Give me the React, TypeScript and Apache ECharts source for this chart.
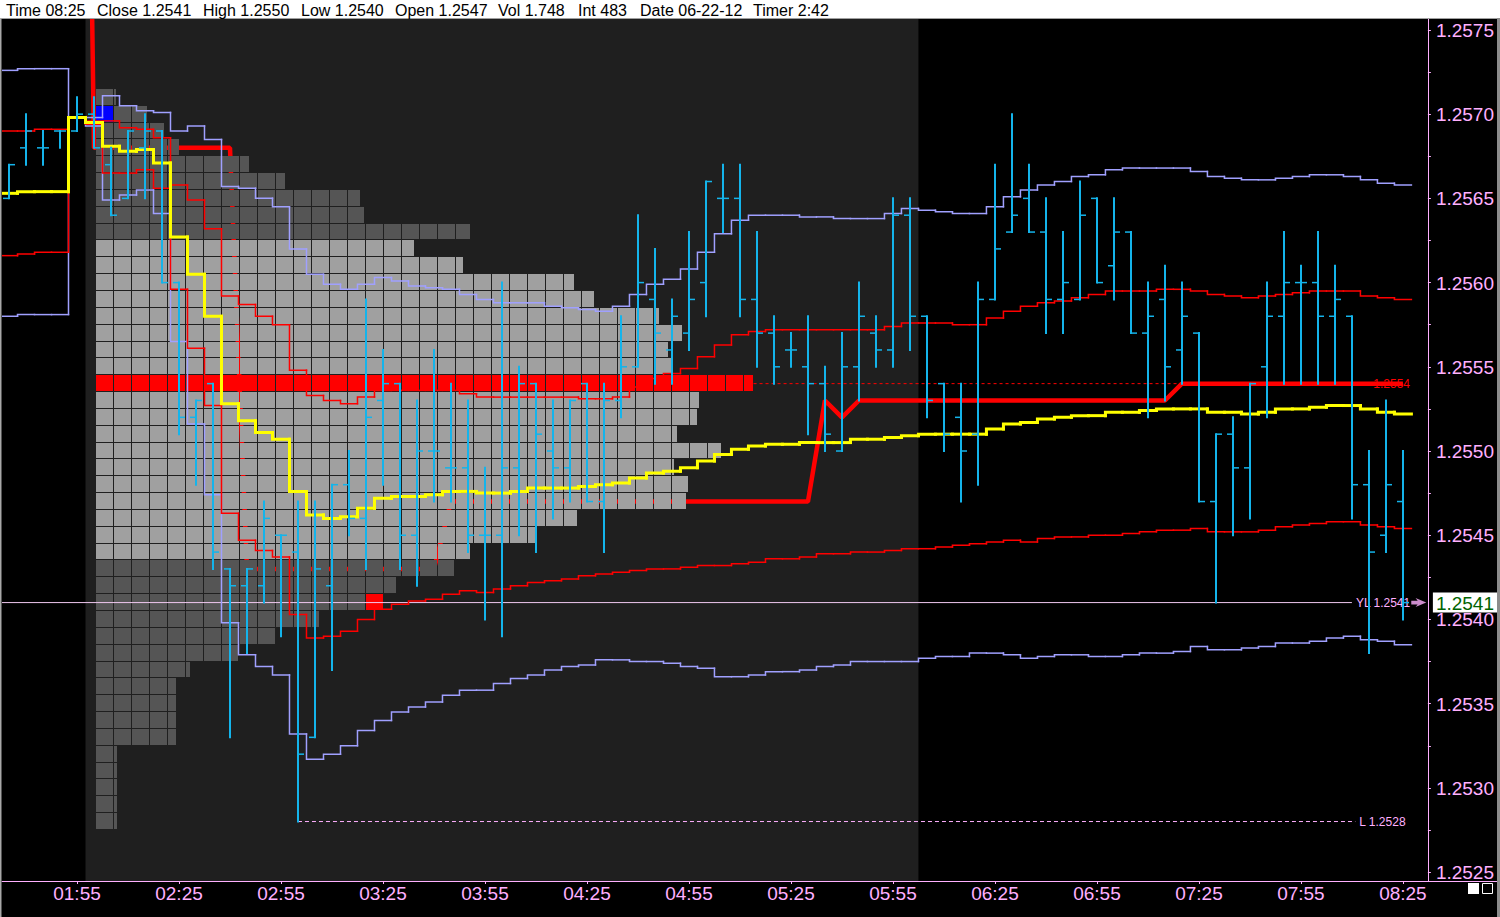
import React, { useEffect, useRef } from 'react';
import * as echarts from 'echarts';

const FONT = "'Liberation Sans', Arial, Helvetica, sans-serif";
const PINK = '#ffb0ff';
const CYAN = '#14b4eb';
const LAVENDER = '#a0a0ff';
const RED = '#ff0000';
const YELLOW = '#ffff00';

// ---------- header ----------
const headerFields = ['Time 08:25', 'Close 1.2541', 'High 1.2550', 'Low 1.2540', 'Open 1.2547', 'Vol 1.748', 'Int 483', 'Date 06-22-12', 'Timer 2:42'];
const headerX = [6, 97, 203, 301, 395, 498, 578, 640, 753];

// ---------- axes ----------
const xTickLabels = ['01:55', '02:25', '02:55', '03:25', '03:55', '04:25', '04:55', '05:25', '05:55', '06:25', '06:55', '07:25', '07:55', '08:25'];
const yTickLabels = ['1.2525', '1.2530', '1.2535', '1.2540', '1.2545', '1.2550', '1.2555', '1.2560', '1.2565', '1.2570', '1.2575'];
const X_MIN = 92.94; // minutes since midnight at the left edge of the plot
const X_MAX = 512.35;
const Y_MIN = 1.252447;
const Y_MAX = 1.257565;
const BAR_MINUTES = 5;
const PIP = 0.0001;

// ---------- 5-minute OHLC bars ----------
const barTimes = ['01:35', '01:40', '01:45', '01:50', '01:55',
  '02:00', '02:05', '02:10', '02:15', '02:20', '02:25', '02:30', '02:35', '02:40', '02:45', '02:50', '02:55',
  '03:00', '03:05', '03:10', '03:15', '03:20', '03:25', '03:30', '03:35', '03:40', '03:45', '03:50', '03:55',
  '04:00', '04:05', '04:10', '04:15', '04:20', '04:25', '04:30', '04:35', '04:40', '04:45', '04:50', '04:55',
  '05:00', '05:05', '05:10', '05:15', '05:20', '05:25', '05:30', '05:35', '05:40', '05:45', '05:50', '05:55',
  '06:00', '06:05', '06:10', '06:15', '06:20', '06:25', '06:30', '06:35', '06:40', '06:45', '06:50', '06:55',
  '07:00', '07:05', '07:10', '07:15', '07:20', '07:25', '07:30', '07:35', '07:40', '07:45', '07:50', '07:55',
  '08:00', '08:05', '08:10', '08:15', '08:20', '08:25'];

const barOpen = [1.2565, 1.2568, 1.2568, 1.2569, 1.2569, 1.2570, 1.2567, 1.2565, 1.2568, 1.2569,
  1.2560, 1.2552, 1.2554, 1.2543, 1.2542, 1.2542, 1.2545, 1.2544, 1.2533, 1.2542,
  1.2548, 1.2546, 1.2553, 1.2554, 1.2545, 1.2550, 1.2549, 1.2549, 1.2545, 1.2545,
  1.2549, 1.2554, 1.2550, 1.2549, 1.2554, 1.2547, 1.2553, 1.2555, 1.2559, 1.2556,
  1.2557, 1.2560, 1.2565, 1.2565, 1.2559, 1.2557, 1.2556, 1.2555, 1.2554, 1.2550,
  1.2555, 1.2557, 1.2556, 1.2564, 1.2558, 1.2554, 1.2552, 1.2551, 1.2559, 1.2563,
  1.2565, 1.2563, 1.2559, 1.2559, 1.2565, 1.2561, 1.2563, 1.2557, 1.2559, 1.2556,
  1.2557, 1.2547, 1.2551, 1.2549, 1.2555, 1.2558, 1.2560, 1.2560, 1.2558, 1.2558,
  1.2548, 1.2545, 1.2547];
const barHigh = [1.2567, 1.2570, 1.2569, 1.2569, 1.2571, 1.2571, 1.2568, 1.2569, 1.2570, 1.2569,
  1.2560, 1.2553, 1.2554, 1.2543, 1.2543, 1.2547, 1.2545, 1.2547, 1.2547, 1.2548,
  1.2550, 1.2559, 1.2556, 1.2554, 1.2553, 1.2556, 1.2554, 1.2553, 1.2549, 1.2560,
  1.2555, 1.2554, 1.2553, 1.2553, 1.2554, 1.2554, 1.2558, 1.2564, 1.2562, 1.2559,
  1.2563, 1.2566, 1.2567, 1.2567, 1.2563, 1.2558, 1.2557, 1.2558, 1.2555, 1.2557,
  1.2560, 1.2558, 1.2565, 1.2565, 1.2558, 1.2554, 1.2554, 1.2560, 1.2567, 1.2570,
  1.2567, 1.2565, 1.2563, 1.2566, 1.2565, 1.2565, 1.2563, 1.2560, 1.2561, 1.2560,
  1.2557, 1.2551, 1.2552, 1.2554, 1.2560, 1.2563, 1.2561, 1.2563, 1.2561, 1.2558,
  1.2550, 1.2553, 1.2550];
const barLow = [1.2565, 1.2567, 1.2567, 1.2568, 1.2569, 1.2568, 1.2564, 1.2565, 1.2565, 1.2560,
  1.2551, 1.2548, 1.2543, 1.2533, 1.2538, 1.2541, 1.2539, 1.2528, 1.2533, 1.2537,
  1.2545, 1.2543, 1.2548, 1.2543, 1.2542, 1.2547, 1.2547, 1.2544, 1.2540, 1.2539,
  1.2545, 1.2544, 1.2546, 1.2547, 1.2547, 1.2544, 1.2552, 1.2555, 1.2554, 1.2554,
  1.2556, 1.2558, 1.2563, 1.2558, 1.2555, 1.2554, 1.2555, 1.2551, 1.2550, 1.2550,
  1.2553, 1.2555, 1.2555, 1.2556, 1.2552, 1.2550, 1.2547, 1.2548, 1.2559, 1.2563,
  1.2563, 1.2557, 1.2557, 1.2559, 1.2560, 1.2559, 1.2557, 1.2552, 1.2553, 1.2554,
  1.2547, 1.2541, 1.2545, 1.2546, 1.2552, 1.2554, 1.2554, 1.2554, 1.2554, 1.2546,
  1.2538, 1.2544, 1.2540];
const barClose = [1.2567, 1.2569, 1.2568, 1.2569, 1.2570, 1.2568, 1.2564, 1.2569, 1.2569, 1.2560,
  1.2552, 1.2553, 1.2544, 1.2542, 1.2543, 1.2546, 1.2545, 1.2532, 1.2543, 1.2548,
  1.2546, 1.2552, 1.2554, 1.2545, 1.2550, 1.2550, 1.2549, 1.2545, 1.2545, 1.2549,
  1.2554, 1.2551, 1.2549, 1.2553, 1.2547, 1.2553, 1.2555, 1.2560, 1.2557, 1.2558,
  1.2559, 1.2566, 1.2565, 1.2559, 1.2557, 1.2555, 1.2556, 1.2554, 1.2551, 1.2555,
  1.2558, 1.2556, 1.2564, 1.2558, 1.2553, 1.2551, 1.2550, 1.2559, 1.2562, 1.2564,
  1.2563, 1.2559, 1.2560, 1.2564, 1.2560, 1.2563, 1.2557, 1.2558, 1.2555, 1.2558,
  1.2547, 1.2551, 1.2549, 1.2554, 1.2558, 1.2560, 1.2560, 1.2558, 1.2559, 1.2548,
  1.2544, 1.2548, 1.2541];

// ---------- indicator lines (one value per bar) ----------
const vwap = [1.25653, 1.25654, 1.25654, 1.25654, 1.25698, 1.25695, 1.25681, 1.25678, 1.25679, 1.25671,
  1.25627, 1.25605, 1.25580, 1.25528, 1.25518, 1.25511, 1.25507, 1.25476, 1.25462, 1.25460,
  1.25461, 1.25466, 1.25472, 1.25473, 1.25473, 1.25474, 1.25476, 1.25476, 1.25475, 1.25475,
  1.25476, 1.25478, 1.25478, 1.25478, 1.25479, 1.25480, 1.25481, 1.25484, 1.25487, 1.25488,
  1.25490, 1.25494, 1.25498, 1.25501, 1.25503, 1.25504, 1.25504, 1.25505, 1.25505, 1.25505,
  1.25507, 1.25507, 1.25508, 1.25509, 1.25510, 1.25510, 1.25510, 1.25510, 1.25513, 1.25516,
  1.25517, 1.25519, 1.25520, 1.25521, 1.25521, 1.25523, 1.25523, 1.25524, 1.25525, 1.25525,
  1.25525, 1.25523, 1.25523, 1.25522, 1.25523, 1.25525, 1.25525, 1.25526, 1.25527, 1.25527,
  1.25525, 1.25523, 1.25522];
const upperOuter = [1.25726, 1.25727, 1.25727, 1.25727, 1.25698, 1.25698, 1.25711, 1.25705, 1.25702, 1.25701,
  1.25690, 1.25693, 1.25685, 1.25657, 1.25656, 1.25650, 1.25645, 1.25620, 1.25605, 1.25599,
  1.25596, 1.25599, 1.25603, 1.25601, 1.25598, 1.25597, 1.25596, 1.25593, 1.25590, 1.25588,
  1.25588, 1.25588, 1.25586, 1.25585, 1.25584, 1.25583, 1.25586, 1.25593, 1.25599, 1.25602,
  1.25608, 1.25618, 1.25629, 1.25637, 1.25640, 1.25640, 1.25640, 1.25639, 1.25639, 1.25638,
  1.25638, 1.25638, 1.25641, 1.25644, 1.25643, 1.25642, 1.25641, 1.25641, 1.25645, 1.25651,
  1.25655, 1.25658, 1.25660, 1.25663, 1.25664, 1.25667, 1.25668, 1.25668, 1.25668, 1.25668,
  1.25666, 1.25663, 1.25662, 1.25661, 1.25661, 1.25662, 1.25663, 1.25664, 1.25664, 1.25663,
  1.25661, 1.25659, 1.25658];
const upperInner = [1.25690, 1.25690, 1.25691, 1.25691, 1.25698, 1.25696, 1.25696, 1.25692, 1.25691, 1.25686,
  1.25658, 1.25649, 1.25632, 1.25592, 1.25587, 1.25580, 1.25575, 1.25548, 1.25533, 1.25530,
  1.25528, 1.25532, 1.25536, 1.25536, 1.25536, 1.25536, 1.25536, 1.25534, 1.25532, 1.25532,
  1.25532, 1.25532, 1.25532, 1.25532, 1.25531, 1.25531, 1.25532, 1.25538, 1.25543, 1.25546,
  1.25549, 1.25556, 1.25563, 1.25569, 1.25571, 1.25572, 1.25572, 1.25572, 1.25572, 1.25572,
  1.25572, 1.25572, 1.25574, 1.25576, 1.25576, 1.25576, 1.25575, 1.25575, 1.25579, 1.25583,
  1.25586, 1.25588, 1.25589, 1.25591, 1.25593, 1.25595, 1.25595, 1.25595, 1.25596, 1.25596,
  1.25595, 1.25593, 1.25592, 1.25591, 1.25592, 1.25593, 1.25594, 1.25595, 1.25595, 1.25595,
  1.25592, 1.25591, 1.25590];
const lowerInner = [1.25616, 1.25617, 1.25618, 1.25618, 1.25698, 1.25694, 1.25665, 1.25665, 1.25667, 1.25656,
  1.25596, 1.25561, 1.25527, 1.25463, 1.25447, 1.25441, 1.25437, 1.25403, 1.25389, 1.25390,
  1.25393, 1.25400, 1.25406, 1.25409, 1.25411, 1.25412, 1.25415, 1.25417, 1.25416, 1.25418,
  1.25420, 1.25422, 1.25423, 1.25424, 1.25426, 1.25427, 1.25428, 1.25429, 1.25430, 1.25430,
  1.25431, 1.25432, 1.25432, 1.25433, 1.25434, 1.25436, 1.25436, 1.25437, 1.25439, 1.25439,
  1.25440, 1.25440, 1.25441, 1.25442, 1.25442, 1.25443, 1.25444, 1.25445, 1.25446, 1.25447,
  1.25446, 1.25448, 1.25449, 1.25449, 1.25450, 1.25450, 1.25451, 1.25452, 1.25453, 1.25453,
  1.25454, 1.25452, 1.25452, 1.25452, 1.25453, 1.25455, 1.25456, 1.25457, 1.25458, 1.25458,
  1.25456, 1.25455, 1.25454];
const lowerOuter = [1.25580, 1.25581, 1.25581, 1.25581, 1.25698, 1.25693, 1.25649, 1.25652, 1.25655, 1.25641,
  1.25565, 1.25516, 1.25474, 1.25398, 1.25379, 1.25372, 1.25367, 1.25332, 1.25317, 1.25320,
  1.25325, 1.25334, 1.25340, 1.25345, 1.25348, 1.25351, 1.25355, 1.25358, 1.25358, 1.25362,
  1.25365, 1.25367, 1.25370, 1.25372, 1.25373, 1.25376, 1.25376, 1.25375, 1.25375, 1.25374,
  1.25372, 1.25371, 1.25366, 1.25366, 1.25367, 1.25369, 1.25369, 1.25370, 1.25372, 1.25373,
  1.25375, 1.25375, 1.25375, 1.25375, 1.25377, 1.25378, 1.25378, 1.25380, 1.25380, 1.25379,
  1.25377, 1.25378, 1.25379, 1.25379, 1.25378, 1.25378, 1.25379, 1.25380, 1.25380, 1.25381,
  1.25384, 1.25382, 1.25382, 1.25383, 1.25384, 1.25386, 1.25386, 1.25387, 1.25389, 1.25390,
  1.25388, 1.25387, 1.25385];
const developingPoc = [1.2640, 1.2640, 1.2640, 1.2640, 1.2640, 1.2568, 1.2568, 1.2568, 1.2568, 1.2568,
  1.2568, 1.2568, 1.2568, 1.2568, 1.2543, 1.2543, 1.2543, 1.2543, 1.2543, 1.2543,
  1.2543, 1.2543, 1.2543, 1.2543, 1.2543, 1.2543, 1.2547, 1.2547, 1.2547, 1.2547,
  1.2547, 1.2547, 1.2547, 1.2547, 1.2547, 1.2547, 1.2547, 1.2547, 1.2547, 1.2547,
  1.2547, 1.2547, 1.2547, 1.2547, 1.2547, 1.2547, 1.2547, 1.2547, 1.2553, 1.2552,
  1.2553, 1.2553, 1.2553, 1.2553, 1.2553, 1.2553, 1.2553, 1.2553, 1.2553, 1.2553,
  1.2553, 1.2553, 1.2553, 1.2553, 1.2553, 1.2553, 1.2553, 1.2553, 1.2553, 1.2554,
  1.2554, 1.2554, 1.2554, 1.2554, 1.2554, 1.2554, 1.2554, 1.2554, 1.2554, 1.2554,
  1.2554, 1.2554, 1.2554];

// ---------- market profile (TPO counts per price) ----------
const profilePrices = [1.2571, 1.2570, 1.2569, 1.2568, 1.2567, 1.2566, 1.2565, 1.2564, 1.2563, 1.2562,
  1.2561, 1.2560, 1.2559, 1.2558, 1.2557, 1.2556, 1.2555, 1.2554, 1.2553, 1.2552,
  1.2551, 1.2550, 1.2549, 1.2548, 1.2547, 1.2546, 1.2545, 1.2544, 1.2543, 1.2542,
  1.2541, 1.2540, 1.2539, 1.2538, 1.2537, 1.2536, 1.2535, 1.2534, 1.2533, 1.2532,
  1.2531, 1.2530, 1.2529, 1.2528];
const profileCounts = [1.1, 2.85, 3.78, 4.6, 8.5, 10.5, 14.65, 14.9, 20.8, 17.65,
  20.4, 26.55, 27.67, 31.3, 32.55, 31.8, 32, 36.5, 33.5, 33.4,
  32.3, 34.7, 32.1, 32.9, 32.8, 26.7, 24.4, 20.8, 19.9, 16.67,
  15.8, 12.4, 9.95, 7.9, 5.2, 4.44, 4.44, 4.44, 4.44, 1.17,
  1.17, 1.17, 1.17, 1.17];
const valueAreaHigh = 1.2562;
const valueAreaLow = 1.2544;
const pocPrice = 1.2554;
const markedCellPrices = [1.2570, 1.2541];
const markedCellColumns = [0, 15];
const markedCellColors = ['#0000ff', '#ff0000'];
const PROFILE_AXIS_MIN = -5.2222;
const PROFILE_AXIS_MAX = 74;

// ---------- reference levels ----------
const sessionShade = ['01:57:30', '06:02:30'];
const yesterdayLow = 1.2541;
const sessionLow = 1.2528;
const sessionLowTime = '03:00';
const refLineEnd = '08:10';
const lowLineEnd = '08:11';
const pocLineStart = '05:14';
const pocLineEnd = '08:16';
const arrowTime = '08:29:40';

const toMin = (s: string) => {
  const p = s.split(':').map(Number);
  return p[0] * 60 + p[1] + (p[2] ? p[2] / 60 : 0);
};
const pad = (n: number) => (n < 10 ? '0' : '') + n;
const barMin = barTimes.map(toMin);
const lastClose = barClose[barClose.length - 1];

function stepSeries(values: number[], color: string, width: number, z: number) {
  return {
    type: 'custom',
    xAxisIndex: 0,
    yAxisIndex: 0,
    z,
    clip: true,
    silent: true,
    data: values.map((v, i) => [barMin[i], v]),
    renderItem: (params: any, api: any) => {
      const i = params.dataIndex;
      const p = api.coord([api.value(0), api.value(1)]);
      const half = api.size([BAR_MINUTES / 2, 0])[0];
      const pts: number[][] = [];
      if (i > 0) {
        const prev = api.coord([barMin[i - 1], values[i - 1]]);
        pts.push([p[0] - half, prev[1]]);
      }
      pts.push([p[0] - half, p[1]], [p[0] + half, p[1]]);
      return {
        type: 'polyline',
        shape: { points: pts },
        style: { stroke: color, lineWidth: width, fill: 'none', lineCap: 'square' },
      };
    },
  };
}

export default function App() {
  const ref = useRef<HTMLDivElement>(null);

  useEffect(() => {
    if (!ref.current) return;
    const chart = echarts.init(ref.current, undefined, { renderer: 'svg' });

    const xTickValues = xTickLabels.map(toMin);
    const yLabelValues = yTickLabels.map(Number);
    const yTickValues: number[] = [];
    yLabelValues.forEach((v, i) => {
      yTickValues.push(v);
      if (i < yLabelValues.length - 1) yTickValues.push((v + yLabelValues[i + 1]) / 2);
    });

    const profileData = profilePrices.map((p, i) => [
      profileCounts[i],
      p,
      Math.abs(p - pocPrice) < 1e-9 ? 2 : p <= valueAreaHigh + 1e-9 && p >= valueAreaLow - 1e-9 ? 1 : 0,
    ]);

    const option: any = {
      backgroundColor: '#000000',
      animation: false,
      tooltip: { show: false },
      grid: { left: 2, right: 72, top: 19, bottom: 36, containLabel: false },
      xAxis: [
        {
          type: 'value',
          min: X_MIN,
          max: X_MAX,
          position: 'bottom',
          axisLine: { show: true, onZero: false, lineStyle: { color: PINK, width: 1 } },
          axisTick: { show: true, customValues: xTickValues, length: 3, lineStyle: { color: PINK } },
          axisLabel: {
            show: true,
            customValues: xTickValues,
            color: PINK,
            fontSize: 19,
            fontFamily: FONT,
            margin: 3,
            formatter: (v: number) => pad(Math.floor(v / 60)) + ':' + pad(Math.round(v % 60)),
          },
          splitLine: { show: false },
        },
        {
          type: 'value',
          min: PROFILE_AXIS_MIN,
          max: PROFILE_AXIS_MAX,
          show: false,
          axisLine: { show: false, onZero: false },
        },
      ],
      yAxis: {
        type: 'value',
        position: 'right',
        min: Y_MIN,
        max: Y_MAX,
        axisLine: { show: true, onZero: false, lineStyle: { color: PINK, width: 1 } },
        axisTick: { show: true, customValues: yTickValues, length: 3, lineStyle: { color: PINK } },
        axisLabel: {
          show: true,
          customValues: [...yLabelValues, lastClose],
          margin: 5,
          formatter: (v: number) => {
            const s = v.toFixed(4);
            return Math.abs(v - lastClose) < 1e-7 ? '{c|' + s + '}' : '{n|' + s + '}';
          },
          rich: {
            n: { color: PINK, fontSize: 19, fontFamily: FONT, padding: [1, 3, 0, 3] },
            c: { color: '#006400', backgroundColor: '#ffffff', fontSize: 19, fontFamily: FONT, padding: [1, 3, 0, 3] },
          },
        },
        splitLine: { show: false },
      },
      series: [
        // session shading
        {
          type: 'custom',
          z: 0,
          silent: true,
          xAxisIndex: 0,
          yAxisIndex: 0,
          data: [[toMin(sessionShade[0]), toMin(sessionShade[1])]],
          renderItem: (params: any, api: any) => {
            const cs = params.coordSys;
            const x0 = api.coord([api.value(0), Y_MAX])[0];
            const x1 = api.coord([api.value(1), Y_MAX])[0];
            return { type: 'rect', shape: { x: x0, y: cs.y, width: x1 - x0, height: cs.height }, style: { fill: '#1f1f1f' } };
          },
        },
        // developing POC (thick, behind the profile)
        {
          type: 'line',
          z: 1,
          silent: true,
          xAxisIndex: 0,
          yAxisIndex: 0,
          data: developingPoc.map((v, i) => [barMin[i], v]),
          symbol: 'none',
          lineStyle: { color: RED, width: 4.5 },
          clip: true,
        },
        // profile cells
        {
          type: 'custom',
          z: 2,
          silent: true,
          xAxisIndex: 1,
          yAxisIndex: 0,
          data: profileData,
          renderItem: (params: any, api: any) => {
            const count = api.value(0);
            const price = api.value(1);
            const kind = api.value(2);
            const top = Math.round(api.coord([0, price + PIP / 2])[1]);
            const bot = Math.round(api.coord([0, price - PIP / 2])[1]);
            const fill = kind === 2 ? '#ff0000' : kind === 1 ? '#a0a0a0' : '#555555';
            const children: any[] = [];
            const n = Math.ceil(count - 1e-9);
            for (let i = 0; i < n; i++) {
              const x0 = Math.round(api.coord([i, price])[0]);
              const full = i + 1 <= count;
              const x1 = Math.round(api.coord([full ? i + 1 : count, price])[0]);
              const w = full ? x1 - x0 - 1 : x1 - x0;
              if (w > 0) children.push({ type: 'rect', shape: { x: x0, y: top, width: w, height: bot - top - 1 }, style: { fill } });
            }
            return { type: 'group', children };
          },
        },
        // marked cells (open / close)
        {
          type: 'custom',
          z: 2,
          silent: true,
          xAxisIndex: 1,
          yAxisIndex: 0,
          data: markedCellPrices.map((p, i) => [markedCellColumns[i], p]),
          renderItem: (params: any, api: any) => {
            const col = api.value(0);
            const price = api.value(1);
            const top = Math.round(api.coord([0, price + PIP / 2])[1]);
            const bot = Math.round(api.coord([0, price - PIP / 2])[1]);
            const x0 = Math.round(api.coord([col, price])[0]);
            const x1 = Math.round(api.coord([col + 1, price])[0]);
            return { type: 'rect', shape: { x: x0, y: top, width: x1 - x0 - 1, height: bot - top - 1 }, style: { fill: markedCellColors[params.dataIndex] } };
          },
        },
        // reference lines
        {
          type: 'line',
          z: 3,
          silent: true,
          data: [[toMin(pocLineStart), pocPrice], [toMin(pocLineEnd), pocPrice]],
          symbol: 'none',
          lineStyle: { color: RED, width: 1, type: [3, 3] },
          endLabel: { show: true, formatter: pocPrice.toFixed(4), color: RED, fontSize: 12, fontFamily: FONT, distance: 1 },
        },
        {
          type: 'line',
          z: 3,
          silent: true,
          data: [[toMin(sessionLowTime), sessionLow], [toMin(lowLineEnd), sessionLow]],
          symbol: 'none',
          lineStyle: { color: PINK, width: 1, type: [4, 3] },
          endLabel: { show: true, formatter: 'L ' + sessionLow.toFixed(4), color: PINK, fontSize: 12, fontFamily: FONT, distance: 4 },
        },
        {
          type: 'line',
          z: 3,
          silent: true,
          data: [[X_MIN, yesterdayLow], [toMin(refLineEnd), yesterdayLow]],
          symbol: 'none',
          lineStyle: { color: '#f0c8f0', width: 1 },
          endLabel: { show: true, formatter: 'YL ' + yesterdayLow.toFixed(4), color: PINK, fontSize: 12, fontFamily: FONT, distance: 4 },
        },
        // bands and VWAP
        stepSeries(upperOuter, LAVENDER, 1.5, 4),
        stepSeries(lowerOuter, LAVENDER, 1.5, 4),
        stepSeries(upperInner, RED, 1.5, 4),
        stepSeries(lowerInner, RED, 1.5, 4),
        stepSeries(vwap, YELLOW, 3, 5),
        // OHLC bars
        {
          type: 'custom',
          z: 6,
          silent: true,
          xAxisIndex: 0,
          yAxisIndex: 0,
          clip: true,
          data: barMin.map((t, i) => [t, barOpen[i], barHigh[i], barLow[i], barClose[i]]),
          renderItem: (params: any, api: any) => {
            const t = api.value(0);
            const x = Math.round(api.coord([t, api.value(2)])[0]);
            const yH = api.coord([t, api.value(2)])[1];
            const yL = api.coord([t, api.value(3)])[1];
            const yO = api.coord([t, api.value(1)])[1];
            const yC = api.coord([t, api.value(4)])[1];
            const st = { stroke: CYAN, lineWidth: 2 };
            return {
              type: 'group',
              children: [
                { type: 'line', shape: { x1: x, y1: yH - 1, x2: x, y2: yL + 1 }, style: st },
                { type: 'line', shape: { x1: x - 6, y1: yO, x2: x, y2: yO }, style: { stroke: CYAN, lineWidth: 1.5 } },
                { type: 'line', shape: { x1: x, y1: yC, x2: x + 6, y2: yC }, style: { stroke: CYAN, lineWidth: 1.5 } },
              ],
            };
          },
        },
        // arrow marker for the yesterday-low line
        {
          type: 'scatter',
          z: 7,
          silent: true,
          data: [[toMin(arrowTime), yesterdayLow]],
          symbol: 'path://M0,3 L6,3 L4,0 L14,5 L4,10 L6,7 L0,7 Z',
          symbolSize: [15, 9],
          itemStyle: { color: PINK },
        },
      ],
      graphic: [
        { type: 'rect', z: 100, shape: { x: 0, y: 0, width: 1500, height: 18 }, style: { fill: '#ffffff' } },
        { type: 'rect', z: 100, shape: { x: 0, y: 18, width: 1500, height: 1 }, style: { fill: '#a0a0a0' } },
        ...headerFields.map((t, i) => ({
          type: 'text',
          z: 101,
          x: headerX[i],
          y: 10,
          style: { text: t, fill: '#000000', fontSize: 16, fontFamily: FONT, verticalAlign: 'middle' },
        })),
        { type: 'rect', z: 100, shape: { x: 0, y: 18, width: 1.5, height: 899 }, style: { fill: '#a8a8a8' } },
        { type: 'rect', z: 100, shape: { x: 1497, y: 18, width: 3, height: 899 }, style: { fill: '#8c8c8c' } },
        { type: 'line', z: 100, shape: { x1: 1428, y1: 881.5, x2: 1497, y2: 881.5 }, style: { stroke: PINK, lineWidth: 1 } },
        { type: 'rect', z: 100, shape: { x: 1468, y: 883, width: 11, height: 11 }, style: { fill: '#ffffff' } },
        { type: 'rect', z: 100, shape: { x: 1482.5, y: 883.5, width: 10, height: 10 }, style: { fill: 'none', stroke: '#ffffff', lineWidth: 1 } },
      ],
    };

    chart.setOption(option);
    return () => chart.dispose();
  }, []);

  return (
    <div style={{ position: 'fixed', left: 0, top: 0, width: 1500, height: 917, background: '#000' }}>
      <div ref={ref} style={{ width: 1500, height: 917 }} />
    </div>
  );
}
